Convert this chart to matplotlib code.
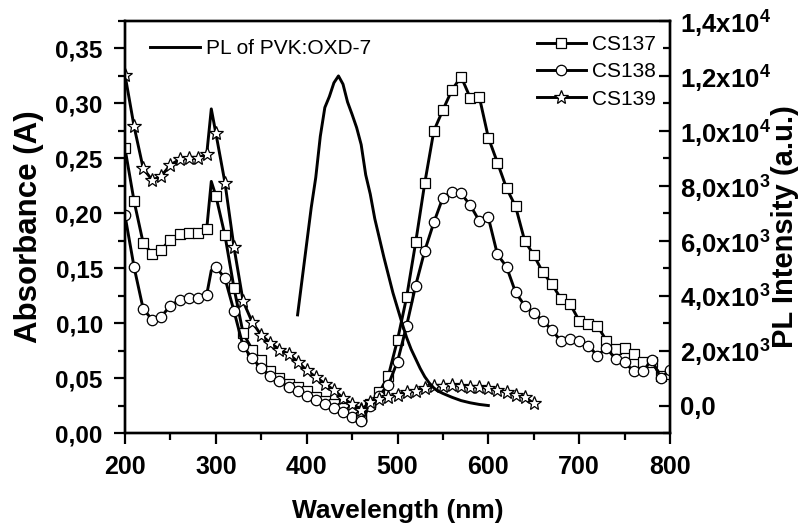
import matplotlib
matplotlib.use("Agg")
import matplotlib.pyplot as plt
from matplotlib.ticker import MultipleLocator, FuncFormatter

plt.rcParams["font.family"] = ["Liberation Sans", "DejaVu Sans"]
plt.rcParams["mathtext.fontset"] = "custom"
plt.rcParams["mathtext.rm"] = "Liberation Sans:bold"
plt.rcParams["mathtext.it"] = "Liberation Sans:bold"
plt.rcParams["mathtext.bf"] = "Liberation Sans:bold"

# absorbance (left axis), 295 nm is the unmarked shoulder point
wl_abs = [200, 210, 220, 230, 240, 250, 260, 270, 280, 290, 295, 300, 310, 320,
          330, 340, 350, 360, 370, 380, 390, 400, 410, 420, 430, 440, 450, 460]
abs_cs137 = [0.259, 0.211, 0.173, 0.163, 0.167, 0.176, 0.181, 0.182, 0.182, 0.186,
             0.229, 0.216, 0.180, 0.132, 0.091, 0.076, 0.066, 0.056, 0.050, 0.045,
             0.042, 0.038, 0.033, 0.029, 0.026, 0.023, 0.019, 0.015]
abs_cs138 = [0.198, 0.151, 0.113, 0.103, 0.106, 0.116, 0.121, 0.123, 0.123, 0.126,
             0.148, 0.151, 0.141, 0.111, 0.079, 0.068, 0.059, 0.052, 0.047, 0.042,
             0.038, 0.034, 0.030, 0.026, 0.023, 0.019, 0.015, 0.012]
abs_cs139 = [0.326, 0.279, 0.241, 0.230, 0.234, 0.244, 0.249, 0.250, 0.250, 0.254,
             0.295, 0.273, 0.228, 0.169, 0.120, 0.101, 0.089, 0.082, 0.076, 0.072,
             0.065, 0.057, 0.051, 0.045, 0.039, 0.032, 0.026, 0.022]

# photoluminescence (right axis)
wl_pl = [460, 470, 480, 490, 500, 510, 520, 530, 540, 550, 560, 570, 580, 590,
         600, 610, 620, 630, 640, 650, 660, 670, 680, 690, 700, 710, 720, 730,
         740, 750, 760, 770, 780, 790, 800]
pl_cs137 = [-425, 60, 484, 1091, 2389, 3938, 5938, 8098, 10000, 10763, 11490, 11974,
            11210, 11247, 9755, 8847, 7916, 7247, 6000, 5479, 4847, 4425, 3879, 3697,
            3091, 2970, 2909, 2363, 2061, 2097, 1879, 1576, 1576, 1091, 1152]
pl_cs138 = [-545, 0, 364, 764, 1600, 2900, 4370, 5636, 6665, 7574, 7781, 7720,
            7297, 6727, 6847, 5500, 5054, 4120, 3636, 3370, 3091, 2752, 2339, 2424,
            2363, 2182, 1818, 2097, 1697, 1576, 1248, 1248, 1661, 1006, 1297]
wl_pl139 = [460, 470, 480, 490, 500, 510, 520, 530, 540, 550, 560, 570, 580, 590,
            600, 610, 620, 630, 640, 650]
pl_cs139 = [-156, 120, 244, 327, 400, 484, 545, 644, 702, 727, 753, 727, 691, 665,
            629, 571, 484, 400, 302, 84]

wl_pvk = [390, 400, 405, 410, 415, 420, 425, 430, 435, 440, 445, 450, 455, 460,
          465, 470, 475, 480, 485, 490, 495, 500, 505, 510, 515, 520, 525, 530,
          535, 540, 545, 550, 560, 570, 580, 590, 600]
pl_pvk = [3300, 5900, 7200, 8300, 9800, 10850, 11250, 11750, 12000, 11700, 11050,
          10600, 10120, 9500, 8400, 7700, 6800, 6100, 5400, 4750, 4100, 3550, 3000,
          2480, 2050, 1700, 1350, 1050, 820, 640, 520, 440, 300, 180, 100, 40, 0]

W, H = 801, 527
fig = plt.figure(figsize=(W / 100, H / 100), dpi=100)
ax = fig.add_axes([125 / W, 1 - 433 / H, 545 / W, 412 / H])
ax2 = ax.twinx()

marked = [i for i, w in enumerate(wl_abs) if w % 10 == 0]
styles = [("s", 6.5, abs_cs137, pl_cs137, wl_pl, "CS137"),
          ("o", 7.5, abs_cs138, pl_cs138, wl_pl, "CS138"),
          ("*", 10, abs_cs139, pl_cs139, wl_pl139, "CS139")]
handles = []
for mk, ms, a, p, wp, name in styles:
    kw = dict(color="black", lw=2.1, marker=mk, ms=ms, mfc="white",
              mec="black", mew=0.9)
    ax.plot(wl_abs, a, markevery=marked, **kw)
    (h,) = ax2.plot(wp, p, **kw)
    handles.append((h, name))

(pvk,) = ax2.plot(wl_pvk, pl_pvk, color="black", lw=2.1)

ax.set_xlim(200, 800)
ax.set_ylim(0, 0.375)
ax2.set_ylim(-1000, 14000)

ax.xaxis.set_major_locator(MultipleLocator(100))
ax.xaxis.set_minor_locator(MultipleLocator(50))
ax.yaxis.set_major_locator(MultipleLocator(0.05))
ax.yaxis.set_minor_locator(MultipleLocator(0.025))
ax2.yaxis.set_major_locator(MultipleLocator(2000))
ax2.yaxis.set_minor_locator(MultipleLocator(1000))

ax.yaxis.set_major_formatter(FuncFormatter(lambda v, _: f"{v:.2f}".replace(".", ",")))


def sci(v, _):
    if abs(v) < 1e-9:
        return "0,0"
    e = 3 if abs(v) < 1e4 else 4
    m = f"{v / 10 ** e:.1f}".replace(".", ",")
    return m + "x10$^{" + str(e) + "}$"


ax2.yaxis.set_major_formatter(FuncFormatter(sci))

for a in (ax, ax2):
    for s in a.spines.values():
        s.set_linewidth(1.7)
ax.tick_params(axis="both", which="major", direction="out", length=8, width=1.6,
               labelsize=18)
ax.tick_params(axis="y", which="major", labelsize=17.5, pad=8)
ax.tick_params(axis="x", which="major", pad=8)
ax.tick_params(axis="both", which="minor", direction="out", length=5, width=1.6)
ax2.tick_params(axis="y", which="major", direction="in", length=8, width=1.6,
                labelsize=18.5, pad=7)
ax2.tick_params(axis="y", which="minor", direction="in", length=5, width=1.6)
for lab in ax.get_xticklabels() + ax.get_yticklabels() + ax2.get_yticklabels():
    lab.set_fontweight("bold")

ax.set_xlabel("Wavelength (nm)", fontsize=19, fontweight="bold", labelpad=14)
ax.set_ylabel("Absorbance (A)", fontsize=22.5, fontweight="bold", labelpad=8)
ax2.set_ylabel("PL Intensity (a.u.)", fontsize=21, fontweight="bold", labelpad=0)

leg1 = ax2.legend([pvk], ["PL of PVK:OXD-7"], loc="upper left",
                  bbox_to_anchor=(0.046, 0.956), frameon=False, fontsize=15,
                  handlelength=2.4, handletextpad=0.3, borderpad=0, borderaxespad=0)
ax2.add_artist(leg1)
ax2.legend([h for h, _ in handles], [n for _, n in handles], loc="upper left",
           bbox_to_anchor=(0.756, 0.966), frameon=False, fontsize=15,
           handlelength=2.35, handletextpad=0.3, labelspacing=0.4,
           borderpad=0, borderaxespad=0)

fig.savefig("out.png", dpi=100)
